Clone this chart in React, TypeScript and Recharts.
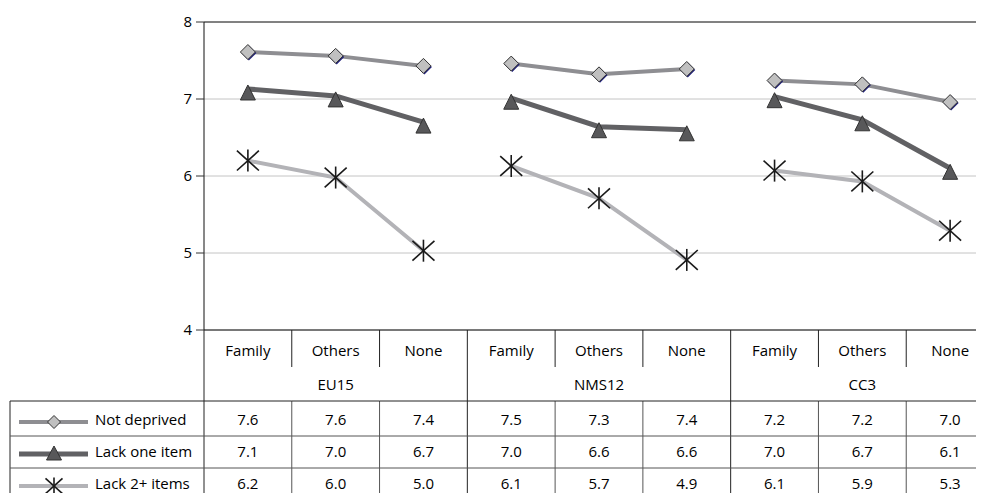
import React from 'react';
import { LineChart, Line, XAxis, YAxis, CartesianGrid, ReferenceLine } from 'recharts';

const CATEGORIES = ['Family', 'Others', 'None', 'Family', 'Others', 'None', 'Family', 'Others', 'None'];
const GROUPS = ['EU15', 'NMS12', 'CC3'];
const Y_TICKS = [4, 5, 6, 7, 8];

const NOT_DEPRIVED = [7.61, 7.56, 7.43, 7.46, 7.32, 7.39, 7.24, 7.19, 6.96];
const LACK_ONE = [7.13, 7.04, 6.7, 7.01, 6.64, 6.6, 7.03, 6.73, 6.1];
const LACK_TWO = [6.2, 5.98, 5.03, 6.13, 5.71, 4.91, 6.07, 5.93, 5.29];

const SERIES = [
  { key: 'nd', name: 'Not deprived', values: NOT_DEPRIVED, color: '#8e8e92', width: 4, marker: 'diamond' },
  { key: 'l1', name: 'Lack one item', values: LACK_ONE, color: '#616164', width: 5, marker: 'triangle' },
  { key: 'l2', name: 'Lack 2+ items', values: LACK_TWO, color: '#b3b3b7', width: 4, marker: 'star' },
];

// one row per category, each series split into 3 keys so lines break between groups
const data = CATEGORIES.map((cat, i) => {
  const g = Math.floor(i / 3);
  const row: any = { cat };
  SERIES.forEach((s) => {
    row[`${s.key}${g}`] = s.values[i];
  });
  return row;
});

const CHART_W = 986;
const CHART_H = 485;
const PLOT_LEFT = 196;
const BAND = (CHART_W - PLOT_LEFT) / CATEGORIES.length;
const ROW_LINES = [71, 106, 138];
const ROW_TEXT = [95, 127, 159];
const LEGEND_LEFT = 2;
const FONT = 15;

function Marker({ type, cx, cy, small }: { type: string; cx: number; cy: number; small?: boolean }) {
  if (type === 'diamond') {
    const h = small ? 6.5 : 7.5;
    const pts = (dx: number, dy: number) =>
      `${cx + dx},${cy - h + dy} ${cx + h + dx},${cy + dy} ${cx + dx},${cy + h + dy} ${cx - h + dx},${cy + dy}`;
    return (
      <g>
        {!small && <polygon points={pts(1, 1)} fill="#20207a" />}
        <polygon points={pts(0, 0)} fill="#c0c0c0" stroke="#333" strokeWidth={1} />
      </g>
    );
  }
  if (type === 'triangle') {
    const top = small ? cy - 8 : cy - 4;
    const bot = small ? cy + 6 : cy + 11;
    return (
      <polygon
        points={`${cx},${top} ${cx + 7.5},${bot} ${cx - 7.5},${bot}`}
        fill="#58585a"
        stroke="#333"
        strokeWidth={1}
      />
    );
  }
  const r = small ? 8.5 : 11;
  return (
    <g stroke="#1a1a1a" strokeWidth={1.6}>
      <line x1={cx} y1={cy - r} x2={cx} y2={cy + r} />
      <line x1={cx - r} y1={cy - r * 0.9} x2={cx + r} y2={cy + r * 0.9} />
      <line x1={cx - r} y1={cy + r * 0.9} x2={cx + r} y2={cy - r * 0.9} />
    </g>
  );
}

const makeDot = (type: string) => (props: any) => {
  const { cx, cy, value, index, dataKey } = props;
  if (value == null || cx == null || cy == null) return <g key={`${dataKey}-${index}`} />;
  return (
    <g key={`${dataKey}-${index}`}>
      <Marker type={type} cx={cx} cy={cy} />
    </g>
  );
};

function TableTick(props: any) {
  const { x, y, index } = props;
  const left = x - BAND / 2;
  const right = x + BAND / 2;
  const pos = index % 3;
  const g = Math.floor(index / 3);
  const stroke = '#222';
  return (
    <g fontSize={FONT} fill="#000">
      <text x={x} y={y + 26} textAnchor="middle" fill="#000">
        {CATEGORIES[index]}
      </text>
      {pos === 1 && (
        <text x={x} y={y + 60} textAnchor="middle" fill="#000">
          {GROUPS[g]}
        </text>
      )}
      {pos !== 2 ? (
        <>
          <line x1={right} y1={y} x2={right} y2={y + 37} stroke={stroke} />
          <line x1={right} y1={y + ROW_LINES[0]} x2={right} y2={y + 170} stroke="#555" />
        </>
      ) : (
        <line x1={right} y1={y} x2={right} y2={y + 170} stroke={stroke} />
      )}
      {index === 0 && <line x1={left} y1={y} x2={left} y2={y + 170} stroke={stroke} />}
      {ROW_LINES.map((r, k) => (
        <line key={k} x1={left} y1={y + r} x2={right} y2={y + r} stroke={k === 0 ? stroke : '#555'} />
      ))}
      {SERIES.map((s, k) => (
        <text key={s.key} x={x} y={y + ROW_TEXT[k]} textAnchor="middle" fill="#000">
          {s.values[index].toFixed(1)}
        </text>
      ))}
      {index === 0 && (
        <g>
          <line x1={LEGEND_LEFT} y1={y + ROW_LINES[0]} x2={LEGEND_LEFT} y2={y + 170} stroke={stroke} />
          {ROW_LINES.map((r, k) => (
            <line key={k} x1={LEGEND_LEFT} y1={y + r} x2={left} y2={y + r} stroke={k === 0 ? stroke : '#555'} />
          ))}
          {SERIES.map((s, k) => {
            const ly = y + ROW_TEXT[k] - 3;
            return (
              <g key={s.key}>
                <line x1={LEGEND_LEFT + 9} y1={ly} x2={LEGEND_LEFT + 78} y2={ly} stroke={s.color} strokeWidth={s.width} />
                <Marker type={s.marker} cx={LEGEND_LEFT + 44} cy={ly} small />
                <text x={LEGEND_LEFT + 85} y={y + ROW_TEXT[k]} fill="#000">
                  {s.name}
                </text>
              </g>
            );
          })}
        </g>
      )}
    </g>
  );
}

export default function App() {
  return (
    <div style={{ width: 976, height: CHART_H, overflow: 'hidden', fontFamily: '"Open Sans", sans-serif' }}>
      <LineChart
        width={CHART_W}
        height={CHART_H}
        data={data}
        margin={{ top: 14, right: 0, bottom: 0, left: PLOT_LEFT - 40 }}
      >
        <CartesianGrid vertical={false} stroke="#c4c4c4" />
        <ReferenceLine y={8} stroke="#222" />
        <XAxis
          dataKey="cat"
          interval={0}
          padding={{ left: BAND / 2, right: BAND / 2 }}
          height={CHART_H - 322}
          tickLine={false}
          tickSize={0}
          tickMargin={0}
          axisLine={{ stroke: '#111' }}
          tick={TableTick}
        />
        <YAxis
          width={40}
          domain={[4, 8]}
          ticks={Y_TICKS}
          tickSize={8}
          tickMargin={4}
          axisLine={{ stroke: '#111' }}
          tickLine={{ stroke: '#333' }}
          tick={{ fill: '#000', fontSize: FONT }}
        />
        {SERIES.map((s) =>
          GROUPS.map((_, g) => (
            <Line
              key={`${s.key}${g}`}
              dataKey={`${s.key}${g}`}
              stroke={s.color}
              strokeWidth={s.width}
              dot={makeDot(s.marker)}
              activeDot={false}
              isAnimationActive={false}
            />
          ))
        )}
      </LineChart>
    </div>
  );
}
